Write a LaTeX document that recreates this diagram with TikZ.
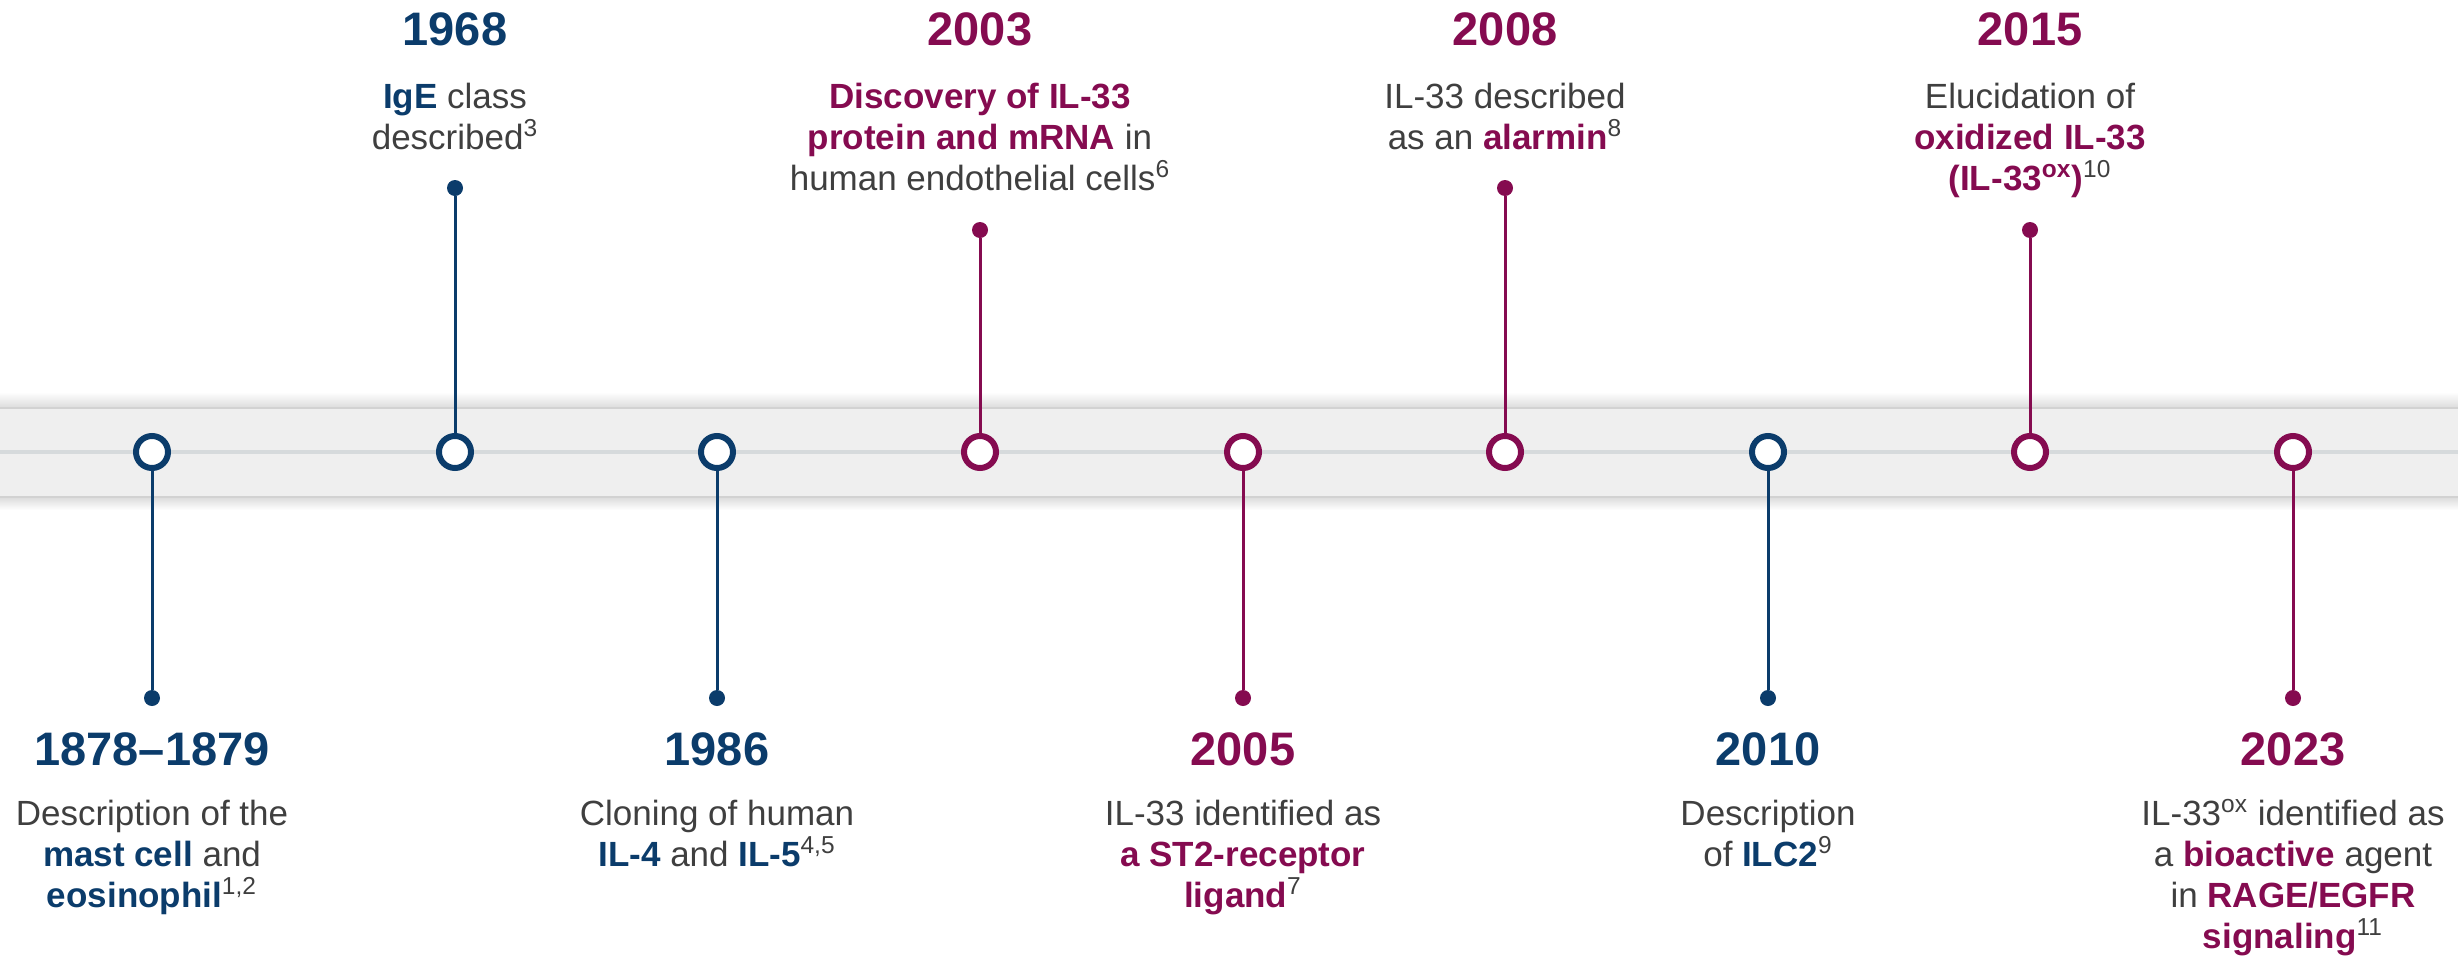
\documentclass[tikz,border=0pt]{standalone}
\usepackage{fontspec}
\setmainfont{Liberation Sans}
\definecolor{navy}{HTML}{0B3C6B}
\definecolor{plum}{HTML}{850B50}
\definecolor{txt}{HTML}{3F3F3F}
\definecolor{bandfill}{HTML}{EFEFEF}
\definecolor{bandedge}{HTML}{D2D2D2}
\definecolor{midline}{HTML}{D6DADC}
\newcommand{\hlnavy}[1]{{\bfseries\color{navy}#1}}
\newcommand{\hlplum}[1]{{\bfseries\color{plum}#1}}
\newcommand{\refmark}[1]{\smash{\textsuperscript{#1}}}
\newcommand{\stack}[1]{\begin{tabular}[t]{@{}c@{}}#1\end{tabular}}
\begin{document}
\begin{tikzpicture}[x=0.5pt,y=-0.5pt,
  ring/.style={circle, draw=#1, fill=white, line width=3pt, minimum size=16pt, inner sep=0pt},
  pin/.style={circle, fill=#1, minimum size=8pt, inner sep=0pt},
  stem/.style={draw=#1, line width=1.5pt},
  yr/.style={anchor=base, text=#1, font=\fontsize{23.5}{28}\selectfont\bfseries, inner sep=0pt},
  desc/.style={anchor=base, text=txt, font=\fontsize{17.5}{20.5}\selectfont, inner sep=0pt},
]
\useasboundingbox (0,0) rectangle (2458,959);
% band with soft shadow
\shade[top color=white, bottom color=black!13] (0,392) rectangle (2458,407);
\shade[top color=black!13, bottom color=white] (0,498) rectangle (2458,510);
\fill[bandfill] (0,407) rectangle (2458,498);
\draw[bandedge, line width=1.2pt] (0,408) -- (2458,408);
\draw[bandedge, line width=1.2pt] (0,497) -- (2458,497);
\draw[midline, line width=2pt] (0,452) -- (2458,452);

% 1878-1879
\node[ring=navy] (c1) at (152,452) {};
\node[pin=navy] (d1) at (152,698) {};
\draw[stem=navy] (c1) -- (d1);
\node[yr=navy] (y1) at (152,765) {1878--1879};
\node[desc] (t1) at (152,825) {\stack{Description of the\\ \hlnavy{mast cell} and\\ \hlnavy{eosinophil}\refmark{1,2}}};

% 1968
\node[ring=navy] (c2) at (455,452) {};
\node[pin=navy] (d2) at (455,188) {};
\draw[stem=navy] (c2) -- (d2);
\node[yr=navy] (y2) at (455,45) {1968};
\node[desc] (t2) at (455,108) {\stack{\hlnavy{IgE} class\\ described\refmark{3}}};

% 1986
\node[ring=navy] (c3) at (717,452) {};
\node[pin=navy] (d3) at (717,698) {};
\draw[stem=navy] (c3) -- (d3);
\node[yr=navy] (y3) at (717,765) {1986};
\node[desc] (t3) at (717,825) {\stack{Cloning of human\\ \hlnavy{IL-4} and \hlnavy{IL-5}\refmark{4,5}}};

% 2003
\node[ring=plum] (c4) at (980,452) {};
\node[pin=plum] (d4) at (980,230) {};
\draw[stem=plum] (c4) -- (d4);
\node[yr=plum] (y4) at (980,45) {2003};
\node[desc] (t4) at (980,108) {\stack{\hlplum{Discovery of IL-33}\\ \hlplum{protein and mRNA} in\\ human endothelial cells\refmark{6}}};

% 2005
\node[ring=plum] (c5) at (1243,452) {};
\node[pin=plum] (d5) at (1243,698) {};
\draw[stem=plum] (c5) -- (d5);
\node[yr=plum] (y5) at (1243,765) {2005};
\node[desc] (t5) at (1243,825) {\stack{IL-33 identified as\\ \hlplum{a ST2-receptor}\\ \hlplum{ligand}\refmark{7}}};

% 2008
\node[ring=plum] (c6) at (1505,452) {};
\node[pin=plum] (d6) at (1505,188) {};
\draw[stem=plum] (c6) -- (d6);
\node[yr=plum] (y6) at (1505,45) {2008};
\node[desc] (t6) at (1505,108) {\stack{IL-33 described\\ as an \hlplum{alarmin}\refmark{8}}};

% 2010
\node[ring=navy] (c7) at (1768,452) {};
\node[pin=navy] (d7) at (1768,698) {};
\draw[stem=navy] (c7) -- (d7);
\node[yr=navy] (y7) at (1768,765) {2010};
\node[desc] (t7) at (1768,825) {\stack{Description\\ of \hlnavy{ILC2}\refmark{9}}};

% 2015
\node[ring=plum] (c8) at (2030,452) {};
\node[pin=plum] (d8) at (2030,230) {};
\draw[stem=plum] (c8) -- (d8);
\node[yr=plum] (y8) at (2030,45) {2015};
\node[desc] (t8) at (2030,108) {\stack{Elucidation of\\ \hlplum{oxidized IL-33}\\ \hlplum{(IL-33\textsuperscript{ox})}\refmark{10}}};

% 2023
\node[ring=plum] (c9) at (2293,452) {};
\node[pin=plum] (d9) at (2293,698) {};
\draw[stem=plum] (c9) -- (d9);
\node[yr=plum] (y9) at (2293,765) {2023};
\node[desc] (t9) at (2293,825) {\stack{IL-33\textsuperscript{ox} identified as\\ a \hlplum{bioactive} agent\\ in \hlplum{RAGE/EGFR}\\ \hlplum{signaling}\refmark{11}}};
\end{tikzpicture}
\end{document}
